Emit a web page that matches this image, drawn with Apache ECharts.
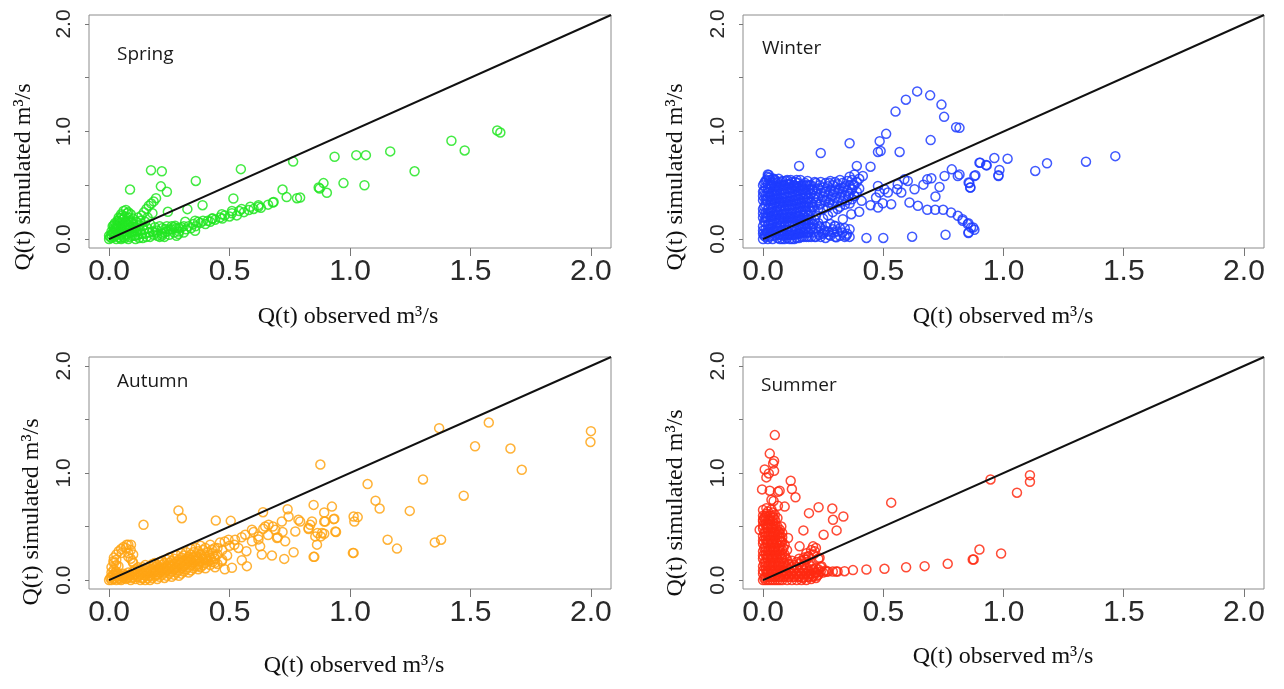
<!DOCTYPE html>
<html>
<head>
<meta charset="utf-8">
<script src="https://cdn.jsdelivr.net/npm/echarts@6/dist/echarts.min.js"></script>
<style>
html,body{margin:0;padding:0;background:#fff;}
#chart{width:1284px;height:689px;}
</style>
</head>
<body>
<div id="chart"></div>
<script>
// ---------- data ----------
const tickValues = [0, 0.5, 1, 1.5, 2];
const yLabelValues = [0, 1, 2];
const seasonNames = ['Spring', 'Winter', 'Autumn', 'Summer'];
const xTitle = 'Q(t) observed m³/s';
const yTitle = 'Q(t) simulated m³/s';
const oneToOne = [[0, 0], [2.0833, 2.0833]];

const springPoints = [
[0.174,0.64],[0.219,0.63],[0.087,0.46],[0.215,0.49],[0.24,0.44],[0.36,0.54],[0.547,0.65],[0.764,0.72],
[0.72,0.46],[0.737,0.39],[0.78,0.38],[0.683,0.345],[0.516,0.377],[0.388,0.315],[0.325,0.278],[0.244,0.253],
[0.874,0.47],[0.89,0.52],[0.904,0.43],[0.973,0.52],[1.06,0.5],[0.793,0.386],[0.87,0.48],
[0.936,0.765],[1.026,0.78],[1.066,0.78],[1.167,0.815],[1.421,0.914],[1.476,0.824],[1.611,1.01],[1.624,0.99],[1.268,0.63],
[0.51,0.26],[0.55,0.28],[0.586,0.30],[0.62,0.315],[0.468,0.23],[0.427,0.19],[0.357,0.17],[0.316,0.16],[0.274,0.123],[0.233,0.093],
[0.288,0.046],[0.219,0.03],[0.357,0.077]
];
const springDense = [
[0.0,0.0],[0.01,0.01],[0.01,0.04],[0.02,0.02],[0.02,0.06],[0.02,0.1],[0.03,0.0],[0.03,0.04],[0.03,0.08],[0.03,0.13],
[0.035,0.17],[0.04,0.02],[0.04,0.06],[0.04,0.11],[0.04,0.2],[0.045,0.15],[0.05,0.0],[0.05,0.04],[0.05,0.09],[0.05,0.23],
[0.055,0.13],[0.055,0.18],[0.06,0.02],[0.06,0.07],[0.06,0.26],[0.065,0.11],[0.065,0.21],[0.07,0.04],[0.07,0.16],[0.07,0.27],
[0.075,0.09],[0.075,0.24],[0.08,0.0],[0.08,0.13],[0.08,0.2],[0.085,0.06],[0.085,0.17],[0.09,0.1],[0.09,0.23],[0.095,0.03],
[0.1,0.14],[0.1,0.19],[0.105,0.07],[0.11,0.0],[0.11,0.11],[0.115,0.16],[0.12,0.04],[0.12,0.2],[0.125,0.13],[0.13,0.08],
[0.13,0.17],[0.135,0.22],[0.14,0.01],[0.14,0.12],[0.145,0.25],[0.15,0.05],[0.15,0.16],[0.155,0.28],[0.16,0.1],[0.16,0.2],
[0.165,0.31],[0.17,0.02],[0.17,0.14],[0.175,0.33],[0.18,0.07],[0.18,0.24],[0.185,0.35],[0.19,0.11],[0.195,0.38],[0.2,0.03],
[0.2,0.08],[0.21,0.12],[0.22,0.05],[0.22,0.1],[0.23,0.02],[0.24,0.07],[0.24,0.12],[0.25,0.04],[0.26,0.09],[0.26,0.12],
[0.27,0.06],[0.28,0.03],[0.28,0.1],[0.29,0.07],[0.3,0.11],[0.31,0.06],[0.32,0.09],[0.33,0.12],[0.34,0.1],[0.35,0.14],
[0.36,0.12],[0.37,0.16],[0.38,0.15],[0.39,0.17],[0.4,0.14],[0.41,0.17],[0.42,0.16],[0.43,0.19],[0.44,0.18],[0.46,0.2],
[0.47,0.19],[0.48,0.22],[0.5,0.21],[0.51,0.24],[0.53,0.22],[0.54,0.26],[0.56,0.25],[0.58,0.27],[0.6,0.28],[0.62,0.3],
[0.63,0.29],[0.66,0.32],[0.68,0.34]
];
const springDense2 = [
[0.005,0.02],[0.015,0.06],[0.015,0.12],[0.025,0.03],[0.025,0.09],[0.025,0.15],[0.035,0.06],[0.035,0.12],[0.045,0.01],
[0.045,0.09],[0.045,0.19],[0.055,0.05],[0.055,0.22],[0.065,0.01],[0.065,0.16],[0.075,0.05],[0.075,0.14],[0.085,0.02],
[0.085,0.11],[0.095,0.07],[0.095,0.16],[0.105,0.03],[0.115,0.07],[0.125,0.01],[0.135,0.05],[0.145,0.09],[0.155,0.02],
[0.165,0.06],[0.185,0.04],[0.195,0.06],[0.21,0.02],[0.23,0.06],[0.25,0.09],[0.27,0.11],[0.29,0.1],[0.31,0.12],
[0.0,0.03],[0.01,0.07],[0.02,0.13],[0.03,0.1],[0.04,0.16],[0.05,0.06],[0.06,0.12],[0.06,0.19],[0.07,0.1],[0.08,0.16],
[0.08,0.25],[0.09,0.06],[0.1,0.11],[0.11,0.03],[0.12,0.09]
];

const winterPoints = [
[0.641,1.373],[0.594,1.296],[0.695,1.336],[0.551,1.185],[0.742,1.25],[0.753,1.136],[0.803,1.04],[0.512,0.978],
[0.485,0.91],[0.478,0.81],[0.489,0.818],[0.568,0.81],[0.697,0.92],[0.36,0.89],[0.24,0.8],[0.15,0.68],[0.024,0.595],
[0.39,0.68],[0.447,0.673],[0.415,0.586],
[0.9,0.71],[0.93,0.685],[0.962,0.753],[0.979,0.586],[0.879,0.586],[0.858,0.52],[0.862,0.48],[0.785,0.648],[0.81,0.586],
[0.755,0.586],[0.734,0.484],[0.717,0.395],[0.683,0.555],[0.7,0.565],[0.667,0.506],[0.63,0.463],[0.602,0.54],[0.558,0.463],
[0.519,0.432],[0.575,0.432],[0.609,0.34],[0.644,0.309],[0.683,0.272],[0.716,0.272],[0.749,0.272],[0.782,0.247],[0.81,0.216],
[0.83,0.17],[0.854,0.148],[0.874,0.108],[0.854,0.056],[0.759,0.04],[0.62,0.022],[0.5,0.01],[0.43,0.01],
[0.533,0.324],[0.478,0.293],[0.498,0.333],[0.447,0.315],[0.4,0.253],[0.367,0.231],[0.332,0.185],[0.298,0.123],[0.256,0.062],
[0.346,0.031],[0.305,0.016],
[1.017,0.747],[0.903,0.71],[0.928,0.688],[0.983,0.642],[0.979,0.593],[0.883,0.593],[0.855,0.525],[0.862,0.479],[1.132,0.633],
[1.181,0.704],[1.343,0.719],[1.465,0.771],[0.817,1.034],[0.817,0.6],[0.83,0.185],[0.851,0.139],[0.865,0.108],[0.879,0.086],[0.855,0.062],
[0.38,0.4],[0.41,0.355],[0.47,0.386],[0.485,0.432],[0.505,0.463],[0.56,0.51],[0.588,0.555],[0.478,0.494]
];
const winterDense = [
[0.0,0.0],[0.0,0.05],[0.0,0.12],[0.0,0.2],[0.0,0.28],[0.0,0.36],[0.0,0.44],[0.01,0.02],[0.01,0.09],[0.01,0.16],[0.01,0.24],
[0.01,0.32],[0.01,0.4],[0.01,0.48],[0.02,0.0],[0.02,0.06],[0.02,0.13],[0.02,0.2],[0.02,0.28],[0.02,0.35],[0.02,0.43],[0.02,0.51],
[0.02,0.58],[0.02,0.6],[0.03,0.03],[0.03,0.1],[0.03,0.17],[0.03,0.25],[0.03,0.32],[0.03,0.4],[0.03,0.47],[0.03,0.55],[0.04,0.0],
[0.04,0.07],[0.04,0.14],[0.04,0.22],[0.04,0.29],[0.04,0.37],[0.04,0.44],[0.04,0.52],[0.05,0.04],[0.05,0.11],[0.05,0.19],[0.05,0.26],
[0.05,0.34],[0.05,0.41],[0.05,0.49],[0.05,0.55],[0.06,0.01],[0.06,0.08],[0.06,0.15],[0.06,0.23],[0.06,0.3],[0.06,0.38],[0.06,0.45],
[0.06,0.53],[0.07,0.04],[0.07,0.12],[0.07,0.19],[0.07,0.27],[0.07,0.34],[0.07,0.42],[0.07,0.5],[0.08,0.0],[0.08,0.08],[0.08,0.16],
[0.08,0.23],[0.08,0.31],[0.08,0.38],[0.08,0.46],[0.08,0.54],[0.09,0.04],[0.09,0.12],[0.09,0.2],[0.09,0.27],[0.09,0.35],[0.09,0.42],
[0.09,0.5],[0.1,0.01],[0.1,0.08],[0.1,0.16],[0.1,0.24],[0.1,0.31],[0.1,0.39],[0.1,0.47],[0.1,0.55],[0.11,0.04],[0.11,0.12],[0.11,0.2],
[0.11,0.28],[0.11,0.35],[0.11,0.43],[0.11,0.51],[0.12,0.0],[0.12,0.08],[0.12,0.16],[0.12,0.24],[0.12,0.32],[0.12,0.39],[0.12,0.47],
[0.12,0.53],[0.13,0.04],[0.13,0.12],[0.13,0.2],[0.13,0.28],[0.13,0.36],[0.13,0.44],[0.13,0.5],[0.14,0.01],[0.14,0.09],[0.14,0.17],
[0.14,0.25],[0.14,0.33],[0.14,0.41],[0.14,0.49],[0.14,0.55],[0.15,0.05],[0.15,0.13],[0.15,0.21],[0.15,0.29],[0.15,0.37],[0.15,0.45],
[0.16,0.02],[0.16,0.1],[0.16,0.18],[0.16,0.26],[0.16,0.34],[0.16,0.42],[0.16,0.5],[0.17,0.06],[0.17,0.14],[0.17,0.22],[0.17,0.3],
[0.17,0.38],[0.17,0.46],[0.18,0.02],[0.18,0.1],[0.18,0.18],[0.18,0.26],[0.18,0.34],[0.18,0.42],[0.18,0.5],[0.19,0.06],[0.19,0.14],
[0.19,0.22],[0.19,0.3],[0.19,0.38],[0.19,0.46],[0.2,0.02],[0.2,0.1],[0.2,0.18],[0.2,0.26],[0.2,0.34],[0.2,0.42],[0.2,0.5],[0.21,0.06],
[0.21,0.14],[0.21,0.3],[0.21,0.38],[0.21,0.46],[0.22,0.02],[0.22,0.1],[0.22,0.22],[0.22,0.34],[0.22,0.42],[0.22,0.52],[0.23,0.06],
[0.23,0.15],[0.23,0.28],[0.23,0.38],[0.23,0.47],[0.24,0.02],[0.24,0.1],[0.24,0.33],[0.24,0.43],[0.24,0.53],[0.25,0.05],[0.25,0.19],
[0.25,0.28],[0.25,0.39],[0.25,0.48],[0.26,0.01],[0.26,0.12],[0.26,0.35],[0.26,0.44],[0.26,0.52],[0.27,0.07],[0.27,0.22],[0.27,0.3],
[0.27,0.4],[0.27,0.49],[0.28,0.03],[0.28,0.14],[0.28,0.36],[0.28,0.45],[0.28,0.54],[0.29,0.09],[0.29,0.25],[0.29,0.32],[0.29,0.41],
[0.29,0.5],[0.3,0.02],[0.3,0.12],[0.3,0.38],[0.3,0.46],[0.3,0.53],[0.31,0.07],[0.31,0.28],[0.31,0.34],[0.31,0.43],[0.31,0.51],
[0.32,0.03],[0.32,0.1],[0.32,0.3],[0.32,0.39],[0.32,0.47],[0.32,0.55],[0.33,0.06],[0.33,0.35],[0.33,0.44],[0.33,0.52],[0.34,0.02],
[0.34,0.1],[0.34,0.32],[0.34,0.4],[0.34,0.49],[0.35,0.05],[0.35,0.36],[0.35,0.45],[0.35,0.54],[0.36,0.02],[0.36,0.09],[0.36,0.33],
[0.36,0.42],[0.36,0.5],[0.36,0.58],[0.37,0.37],[0.37,0.46],[0.37,0.55],[0.38,0.4],[0.38,0.5],[0.38,0.6],[0.39,0.44],[0.39,0.53],
[0.4,0.47],[0.4,0.56]
];
const winterDense2 = [
[0.005,0.03],[0.005,0.16],[0.005,0.3],[0.005,0.45],[0.005,0.52],[0.015,0.06],[0.015,0.2],[0.015,0.36],[0.015,0.55],
[0.025,0.02],[0.025,0.14],[0.025,0.29],[0.025,0.44],[0.025,0.57],[0.035,0.07],[0.035,0.21],[0.035,0.36],[0.035,0.5],
[0.045,0.03],[0.045,0.17],[0.045,0.32],[0.045,0.47],[0.045,0.56],[0.055,0.08],[0.055,0.22],[0.055,0.37],[0.055,0.52],
[0.065,0.04],[0.065,0.18],[0.065,0.33],[0.065,0.48],[0.065,0.56],[0.075,0.07],[0.075,0.23],[0.075,0.38],[0.075,0.53],
[0.085,0.03],[0.085,0.19],[0.085,0.34],[0.085,0.5],[0.095,0.08],[0.095,0.23],[0.095,0.39],[0.095,0.54],
[0.105,0.04],[0.105,0.2],[0.105,0.35],[0.105,0.51],[0.115,0.08],[0.115,0.24],[0.115,0.4],[0.115,0.55],
[0.125,0.04],[0.125,0.2],[0.125,0.36],[0.125,0.5],[0.135,0.08],[0.135,0.24],[0.135,0.4],[0.135,0.53],
[0.145,0.05],[0.145,0.21],[0.145,0.37],[0.145,0.52],[0.155,0.09],[0.155,0.25],[0.155,0.41],[0.155,0.55],
[0.165,0.06],[0.165,0.22],[0.165,0.38],[0.165,0.46],[0.175,0.1],[0.175,0.26],[0.175,0.42],[0.175,0.52],
[0.185,0.06],[0.185,0.22],[0.185,0.38],[0.185,0.54],[0.195,0.1],[0.195,0.26],[0.195,0.42],[0.195,0.5],
[0.205,0.14],[0.205,0.3],[0.205,0.46],[0.215,0.02],[0.215,0.18],[0.215,0.4],[0.215,0.53],
[0.235,0.04],[0.235,0.12],[0.235,0.32],[0.235,0.5],[0.255,0.08],[0.255,0.36],[0.255,0.44],
[0.275,0.04],[0.275,0.34],[0.275,0.52],[0.295,0.06],[0.295,0.44],[0.315,0.46],[0.335,0.48],[0.355,0.4],[0.375,0.5]
];
const winterDense3 = [
[0.0,0.08],[0.0,0.24],[0.0,0.4],[0.0,0.5],[0.01,0.05],[0.01,0.2],[0.01,0.36],[0.01,0.54],[0.02,0.09],[0.02,0.24],[0.02,0.39],
[0.02,0.47],[0.03,0.06],[0.03,0.21],[0.03,0.36],[0.03,0.51],[0.04,0.1],[0.04,0.25],[0.04,0.41],[0.04,0.56],[0.05,0.07],[0.05,0.22],
[0.05,0.37],[0.05,0.45],[0.06,0.11],[0.06,0.26],[0.06,0.42],[0.06,0.49],[0.07,0.0],[0.07,0.15],[0.07,0.3],[0.07,0.46],[0.08,0.04],
[0.08,0.2],[0.08,0.35],[0.08,0.5],[0.09,0.0],[0.09,0.16],[0.09,0.31],[0.09,0.46],[0.1,0.04],[0.1,0.2],[0.1,0.35],[0.1,0.51],
[0.11,0.0],[0.11,0.16],[0.11,0.31],[0.11,0.47],[0.12,0.04],[0.12,0.2],[0.12,0.28],[0.12,0.43],[0.13,0.0],[0.13,0.16],[0.13,0.32],
[0.13,0.48],[0.14,0.05],[0.14,0.21],[0.14,0.29],[0.14,0.45],[0.15,0.01],[0.15,0.17],[0.15,0.33],[0.15,0.49],[0.16,0.06],[0.16,0.14],
[0.16,0.3],[0.16,0.46],[0.17,0.02],[0.17,0.18],[0.17,0.34],[0.17,0.5],[0.18,0.06],[0.18,0.14],[0.18,0.3],[0.18,0.46],[0.19,0.02],
[0.19,0.18],[0.19,0.34],[0.19,0.5]
];

const autumnPoints = [
[1.37,1.419],[1.576,1.471],[1.519,1.249],[1.666,1.228],[1.713,1.03],[2.0,1.391],[1.998,1.289],[0.877,1.079],[1.073,0.897],
[1.303,0.94],[1.472,0.788],[1.106,0.742],[1.123,0.668],[1.248,0.646],[0.849,0.702],[0.925,0.686],[0.893,0.631],[0.935,0.572],
[0.893,0.547],[0.842,0.547],[0.835,0.516],[0.828,0.476],[1.032,0.588],[1.018,0.547],[0.865,0.44],[0.893,0.433],[0.879,0.408],
[0.942,0.449],[0.863,0.331],[0.849,0.217],[1.015,0.254],[1.156,0.377],[1.195,0.294],[1.352,0.352],[1.378,0.377],[0.793,0.547],
[0.288,0.649],[0.302,0.578],[0.143,0.516],[0.443,0.556],[0.505,0.553],[0.639,0.634],[0.741,0.662],[1.015,0.593],
[1.012,0.254],[0.852,0.217],[0.766,0.26],[0.727,0.198],[0.676,0.229],[0.634,0.238],[0.572,0.13],[0.551,0.185],[0.51,0.115],[0.468,0.176],
[0.496,0.377],[0.537,0.3],[0.593,0.47],[0.62,0.408],[0.648,0.5],[0.69,0.47],[0.697,0.393],[0.731,0.362],[0.745,0.593],[0.773,0.454],
[0.786,0.563],[0.828,0.486],[0.856,0.408],[0.884,0.44],[0.897,0.547],[0.939,0.454],[0.932,0.569],[0.717,0.547],[0.662,0.516],
[0.565,0.424],[0.523,0.377],[0.593,0.362],[0.627,0.315],[0.427,0.285],[0.44,0.161],[0.399,0.192],[0.371,0.13],
[0.073,0.331],[0.091,0.331],[0.053,0.254],[0.08,0.217],[0.097,0.176],[0.039,0.13],[0.018,0.176],[0.025,0.069],
[0.45,0.3],[0.48,0.36],[0.52,0.33],[0.55,0.4],[0.57,0.27],[0.6,0.45],[0.62,0.38],[0.64,0.48],[0.66,0.42],[0.68,0.5],[0.7,0.4],[0.72,0.45]
];
const autumnDense = [
[0.0,0.0],[0.01,0.0],[0.01,0.03],[0.01,0.07],[0.01,0.12],[0.02,0.01],[0.02,0.05],[0.02,0.1],[0.02,0.16],[0.02,0.21],[0.03,0.0],
[0.03,0.04],[0.03,0.08],[0.03,0.14],[0.03,0.19],[0.03,0.24],[0.04,0.02],[0.04,0.06],[0.04,0.27],[0.05,0.0],[0.05,0.04],[0.05,0.29],
[0.06,0.02],[0.06,0.06],[0.06,0.31],[0.07,0.01],[0.07,0.05],[0.07,0.3],[0.08,0.03],[0.08,0.07],[0.08,0.25],[0.08,0.33],[0.09,0.0],
[0.09,0.05],[0.09,0.2],[0.09,0.28],[0.1,0.03],[0.1,0.08],[0.1,0.16],[0.1,0.24],[0.11,0.01],[0.11,0.06],[0.11,0.1],[0.12,0.03],
[0.12,0.08],[0.12,0.12],[0.13,0.0],[0.13,0.05],[0.13,0.1],[0.14,0.02],[0.14,0.07],[0.14,0.12],[0.15,0.0],[0.15,0.04],[0.15,0.09],
[0.15,0.14],[0.16,0.02],[0.16,0.06],[0.16,0.11],[0.17,0.0],[0.17,0.04],[0.17,0.08],[0.17,0.13],[0.18,0.02],[0.18,0.06],[0.18,0.1],
[0.18,0.15],[0.19,0.04],[0.19,0.08],[0.19,0.12],[0.19,0.16],[0.2,0.01],[0.2,0.05],[0.2,0.1],[0.2,0.14],[0.21,0.03],[0.21,0.07],
[0.21,0.12],[0.21,0.17],[0.22,0.05],[0.22,0.09],[0.22,0.14],[0.22,0.18],[0.23,0.02],[0.23,0.07],[0.23,0.11],[0.23,0.16],[0.24,0.04],
[0.24,0.09],[0.24,0.13],[0.24,0.19],[0.25,0.06],[0.25,0.11],[0.25,0.16],[0.25,0.21],[0.26,0.03],[0.26,0.08],[0.26,0.13],[0.26,0.18],
[0.27,0.05],[0.27,0.1],[0.27,0.15],[0.27,0.2],[0.28,0.07],[0.28,0.12],[0.28,0.17],[0.28,0.23],[0.29,0.04],[0.29,0.09],[0.29,0.14],
[0.29,0.19],[0.3,0.06],[0.3,0.11],[0.3,0.16],[0.3,0.21],[0.3,0.25],[0.31,0.08],[0.31,0.13],[0.31,0.18],[0.31,0.23],[0.32,0.1],
[0.32,0.15],[0.32,0.2],[0.32,0.26],[0.33,0.07],[0.33,0.12],[0.33,0.17],[0.33,0.22],[0.34,0.09],[0.34,0.14],[0.34,0.19],[0.34,0.24],
[0.34,0.29],[0.35,0.11],[0.35,0.16],[0.35,0.21],[0.35,0.26],[0.36,0.13],[0.36,0.18],[0.36,0.23],[0.36,0.3],[0.37,0.1],[0.37,0.15],
[0.37,0.2],[0.37,0.27],[0.38,0.12],[0.38,0.17],[0.38,0.24],[0.38,0.32],[0.39,0.14],[0.39,0.2],[0.39,0.28],[0.4,0.11],[0.4,0.16],
[0.4,0.22],[0.4,0.3],[0.41,0.18],[0.41,0.26],[0.42,0.14],[0.42,0.21],[0.42,0.33],[0.43,0.17],[0.43,0.25],[0.44,0.12],[0.44,0.2],
[0.44,0.3],[0.45,0.15],[0.45,0.24],[0.46,0.35],[0.47,0.19],[0.47,0.28],[0.48,0.1],[0.49,0.23],[0.5,0.32]
];
const autumnDense2 = [
[0.005,0.02],[0.015,0.05],[0.025,0.02],[0.035,0.06],[0.045,0.01],[0.055,0.03],[0.065,0.04],[0.075,0.02],[0.085,0.05],
[0.095,0.02],[0.105,0.05],[0.115,0.03],[0.125,0.06],[0.135,0.02],[0.145,0.05],[0.155,0.07],[0.165,0.04],[0.175,0.1],
[0.185,0.08],[0.195,0.05],[0.205,0.08],[0.215,0.1],[0.225,0.12],[0.235,0.09],[0.245,0.11],[0.255,0.14],[0.265,0.1],
[0.275,0.12],[0.285,0.15],[0.295,0.17],[0.305,0.13],[0.315,0.15],[0.325,0.18],[0.335,0.2],[0.345,0.17],[0.355,0.19],
[0.365,0.21],[0.375,0.18],[0.385,0.22],[0.395,0.24],[0.405,0.2],[0.415,0.23],[0.425,0.19],[0.435,0.22]
];

const summerPoints = [
[0.049,1.354],[0.028,1.181],[0.046,1.113],[0.042,1.088],[0.007,1.033],[0.024,0.996],[0.046,1.02],[0.014,0.959],[0.115,0.927],
[0.12,0.85],[0.135,0.773],[-0.004,0.847],[0.028,0.835],[0.069,0.835],[0.044,0.739],[0.014,0.671],[0.062,0.693],[0.09,0.686],
[0.191,0.625],[0.231,0.68],[0.288,0.668],[0.291,0.563],[0.334,0.594],[0.306,0.464],[0.168,0.464],[0.252,0.424],[0.533,0.723],
[0.152,0.315],[0.208,0.315],[0.104,0.393],[0.0,0.563],[-0.014,0.47],
[0.339,0.083],[0.374,0.093],[0.43,0.099],[0.505,0.105],[0.595,0.12],[0.672,0.13],[0.768,0.152],[0.872,0.192],[0.9,0.285],
[0.946,0.94],[1.11,0.98],[1.11,0.918],[1.056,0.816],[0.876,0.192],[0.99,0.248],[0.263,0.078],[0.304,0.08],
[0.215,0.269],[0.235,0.208],[0.243,0.13],[0.222,0.069],[0.2,0.099],[0.173,0.192],[0.187,0.223],
[0.062,0.825],[0.0,0.655],[0.076,0.5],[0.069,0.44],[0.049,0.61],[0.035,0.75]
];
const summerDense = [
[0.0,0.0],[0.0,0.06],[0.0,0.13],[0.0,0.2],[0.0,0.27],[0.0,0.34],[0.0,0.41],[0.0,0.48],[0.0,0.55],[0.01,0.03],[0.01,0.1],[0.01,0.17],
[0.01,0.24],[0.01,0.31],[0.01,0.38],[0.01,0.45],[0.01,0.52],[0.01,0.6],[0.02,0.0],[0.02,0.06],[0.02,0.13],[0.02,0.2],[0.02,0.27],
[0.02,0.34],[0.02,0.41],[0.02,0.48],[0.02,0.56],[0.02,0.64],[0.03,0.03],[0.03,0.1],[0.03,0.17],[0.03,0.24],[0.03,0.31],[0.03,0.38],
[0.03,0.45],[0.03,0.52],[0.03,0.6],[0.04,0.0],[0.04,0.06],[0.04,0.13],[0.04,0.2],[0.04,0.27],[0.04,0.34],[0.04,0.41],[0.04,0.48],
[0.04,0.55],[0.04,0.63],[0.05,0.03],[0.05,0.1],[0.05,0.17],[0.05,0.24],[0.05,0.31],[0.05,0.38],[0.05,0.45],[0.05,0.52],[0.06,0.0],
[0.06,0.06],[0.06,0.13],[0.06,0.2],[0.06,0.27],[0.06,0.34],[0.06,0.42],[0.06,0.5],[0.06,0.58],[0.07,0.03],[0.07,0.1],[0.07,0.17],
[0.07,0.24],[0.07,0.32],[0.07,0.4],[0.07,0.47],[0.08,0.0],[0.08,0.06],[0.08,0.13],[0.08,0.2],[0.08,0.28],[0.08,0.36],[0.08,0.44],
[0.09,0.03],[0.09,0.09],[0.09,0.16],[0.09,0.24],[0.09,0.33],[0.1,0.0],[0.1,0.06],[0.1,0.12],[0.1,0.19],[0.1,0.28],[0.11,0.03],
[0.11,0.09],[0.11,0.15],[0.12,0.0],[0.12,0.06],[0.12,0.12],[0.12,0.18],[0.13,0.03],[0.13,0.09],[0.13,0.14],[0.14,0.0],[0.14,0.06],
[0.14,0.12],[0.14,0.17],[0.15,0.03],[0.15,0.09],[0.15,0.15],[0.15,0.2],[0.16,0.0],[0.16,0.06],[0.16,0.12],[0.16,0.18],[0.17,0.03],
[0.17,0.09],[0.17,0.15],[0.17,0.21],[0.18,0.0],[0.18,0.06],[0.18,0.12],[0.18,0.19],[0.18,0.25],[0.19,0.03],[0.19,0.09],[0.19,0.16],
[0.19,0.22],[0.2,0.01],[0.2,0.06],[0.2,0.13],[0.2,0.28],[0.21,0.04],[0.21,0.1],[0.21,0.24],[0.22,0.02],[0.22,0.07],[0.22,0.11],
[0.22,0.3],[0.23,0.05],[0.23,0.1],[0.23,0.2],[0.24,0.08],[0.24,0.12],[0.25,0.07],[0.26,0.09],[0.27,0.08],[0.29,0.08],[0.31,0.08]
];
const summerDense2 = [
[0.005,0.02],[0.005,0.16],[0.005,0.3],[0.005,0.44],[0.005,0.58],[0.015,0.07],[0.015,0.21],[0.015,0.35],[0.015,0.49],[0.015,0.62],
[0.025,0.03],[0.025,0.15],[0.025,0.29],[0.025,0.43],[0.025,0.57],[0.035,0.08],[0.035,0.21],[0.035,0.35],[0.035,0.49],[0.035,0.66],
[0.045,0.03],[0.045,0.16],[0.045,0.3],[0.045,0.44],[0.045,0.58],[0.055,0.07],[0.055,0.21],[0.055,0.35],[0.055,0.48],
[0.065,0.03],[0.065,0.16],[0.065,0.3],[0.065,0.45],[0.075,0.07],[0.075,0.2],[0.075,0.36],[0.085,0.03],[0.085,0.16],[0.085,0.3],
[0.095,0.06],[0.095,0.21],[0.105,0.03],[0.105,0.15],[0.115,0.06],[0.125,0.03],[0.125,0.09],[0.135,0.06],[0.145,0.03],[0.155,0.06],
[0.165,0.02],[0.175,0.06],[0.185,0.03],[0.195,0.06],[0.205,0.03],[0.215,0.07],[0.225,0.04],
[0.0,0.09],[0.0,0.23],[0.0,0.37],[0.0,0.51],[0.0,0.6],[0.01,0.0],[0.01,0.13],[0.01,0.27],[0.01,0.41],[0.01,0.56],
[0.02,0.09],[0.02,0.23],[0.02,0.37],[0.02,0.52],[0.03,0.0],[0.03,0.13],[0.03,0.27],[0.03,0.41],[0.03,0.56],
[0.04,0.09],[0.04,0.23],[0.04,0.37],[0.04,0.51],[0.04,0.6],[0.05,0.0],[0.05,0.13],[0.05,0.27],[0.05,0.41],[0.05,0.56],
[0.06,0.09],[0.06,0.23],[0.06,0.37],[0.06,0.46],[0.07,0.0],[0.07,0.13],[0.07,0.28],[0.07,0.36],[0.08,0.09],[0.08,0.24],[0.08,0.4]
];

const seasonColors = ['#22e622', '#1e3cff', '#ffa514', '#ff2a12'];

// ---------- layout ----------
const panels = [
  {left: 89, top: 15, width: 522, height: 233},
  {left: 743, top: 15, width: 521, height: 233},
  {left: 89, top: 357, width: 522, height: 232},
  {left: 743, top: 357, width: 521, height: 232}
];
const seasonPos = [[117, 55], [762, 49], [117, 382], [761, 386]];
const xTitlePos = [[348, 317], [1003, 317], [354, 666], [1003, 657]];
const yTitlePos = [[24, 177], [676, 177], [32, 512], [676, 503]];

const seriesData = [
  springDense.concat(springDense2, springPoints),
  winterDense.concat(winterDense2, winterDense3, winterPoints),
  autumnDense.concat(autumnDense2, autumnPoints),
  summerDense.concat(summerDense2, summerPoints)
];

const grid = [], xAxis = [], yAxis = [], series = [], graphic = [];
panels.forEach((p, i) => {
  grid.push({left: p.left, top: p.top, width: p.width, height: p.height, show: true,
    borderColor: '#8c8c8c', borderWidth: 1, backgroundColor: 'transparent'});
  xAxis.push({gridIndex: i, type: 'value', min: -0.0833, max: 2.0833,
    splitLine: {show: false}, axisLine: {show: false, onZero: false},
    axisTick: {show: true, customValues: tickValues, length: 8, lineStyle: {color: '#777', width: 1}},
    axisLabel: {customValues: tickValues, formatter: v => v.toFixed(1), fontSize: 30,
      fontFamily: 'Liberation Sans', color: '#2a2a2a', margin: 9}});
  yAxis.push({gridIndex: i, type: 'value', min: -0.0833, max: 2.0833,
    splitLine: {show: false}, axisLine: {show: false, onZero: false},
    axisTick: {show: true, customValues: tickValues, length: 4, lineStyle: {color: '#777', width: 1}},
    axisLabel: {customValues: yLabelValues, formatter: v => v.toFixed(1), fontSize: 21, rotate: 90,
      fontFamily: 'Liberation Sans', color: '#2a2a2a', margin: 14}});
  series.push({type: 'scatter', xAxisIndex: i, yAxisIndex: i, data: seriesData[i],
    symbol: 'circle', symbolSize: 9, silent: true, large: false,
    itemStyle: {color: 'rgba(0,0,0,0)', borderColor: seasonColors[i], borderWidth: 1.5, opacity: 0.85}});
  series.push({type: 'line', xAxisIndex: i, yAxisIndex: i, data: oneToOne, symbol: 'none',
    silent: true, z: 5, lineStyle: {color: '#111', width: 2}});
  graphic.push({type: 'text', x: seasonPos[i][0], y: seasonPos[i][1],
    style: {text: seasonNames[i], font: '19px "Open Sans"', fill: '#1a1a1a', textAlign: 'left', textVerticalAlign: 'middle'}});
  graphic.push({type: 'text', x: xTitlePos[i][0], y: xTitlePos[i][1],
    style: {text: xTitle, font: '24px "Liberation Serif"', fill: '#111', textAlign: 'center', textVerticalAlign: 'middle'}});
  graphic.push({type: 'text', x: yTitlePos[i][0], y: yTitlePos[i][1], rotation: Math.PI / 2,
    style: {text: yTitle, font: '24px "Liberation Serif"', fill: '#111', textAlign: 'center', textVerticalAlign: 'middle'}});
});

const chart = echarts.init(document.getElementById('chart'), null, {renderer: 'canvas'});
chart.setOption({animation: false, backgroundColor: '#fff', grid, xAxis, yAxis, series, graphic});
</script>
</body>
</html>
